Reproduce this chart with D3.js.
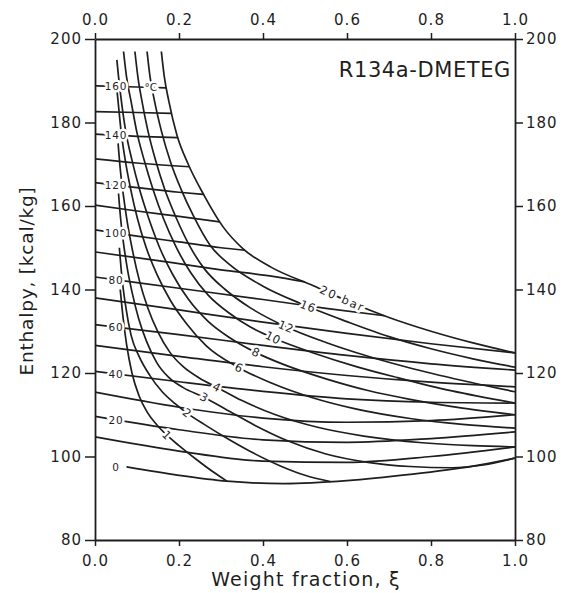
<!DOCTYPE html>
<html>
<head>
<meta charset="utf-8">
<script src="https://cdn.jsdelivr.net/npm/d3@7"></script>
<style>
  body { margin: 0; background: #fff; }
  svg text { font-family: "DejaVu Sans", sans-serif; fill: #1e1e1e; }
</style>
</head>
<body>
<script>
'use strict';

// axis ticks
let xiTicks = [0, 0.2, 0.4, 0.6, 0.8, 1.0];
let hTicks = [80, 100, 120, 140, 160, 180, 200];

// isotherms [weight fraction, enthalpy], one every 10 degC, labelled every 20
let temps = [0, 10, 20, 30, 40, 50, 60, 70, 80, 90, 100, 110, 120, 130, 140, 150, 160];
let isotherms = [
  [[0.075, 97.5], [0.2, 95.5], [0.314, 94.1], [0.45, 93.5], [0.6, 94.2], [0.75, 95.7], [0.9, 97.7], [1.0, 99.6]],
  [[0, 104.7], [0.2, 101.3], [0.4, 98.9], [0.6, 98.6], [0.8, 100], [1.0, 102.3]],
  [[0, 109.6], [0.2, 106.4], [0.4, 104], [0.6, 103.4], [0.8, 104.3], [1.0, 105.9]],
  [[0, 115.4], [0.2, 111.8], [0.4, 109.2], [0.6, 108.2], [0.8, 108.6], [1.0, 110]],
  [[0, 120.4], [0.2, 117.9], [0.4, 115.6], [0.6, 113.8], [0.8, 113], [1.0, 112.8]],
  [[0, 126.6], [0.2, 124], [0.4, 121.5], [0.6, 119.4], [0.8, 117.8], [1.0, 116.7]],
  [[0, 131.6], [0.2, 129.2], [0.4, 126.6], [0.6, 124.2], [0.8, 122.2], [1.0, 120.7]],
  [[0, 138], [0.2, 135.1], [0.4, 132.2], [0.6, 129.5], [0.8, 127], [1.0, 124.8]],
  [[0, 143], [0.2, 140.3], [0.4, 137.6], [0.55, 135.5], [0.69, 133.7]],
  [[0, 149], [0.15, 146.9], [0.3, 144.7], [0.42, 143.2], [0.5, 141.8]],
  [[0, 154.3], [0.1, 152.8], [0.2, 151.4], [0.3, 150], [0.357, 149.4]],
  [[0, 160.2], [0.1, 158.8], [0.2, 157.5], [0.297, 156.2]],
  [[0, 165.6], [0.1, 164.4], [0.2, 163.3], [0.258, 162.8]],
  [[0, 171.3], [0.1, 170.3], [0.225, 169.4]],
  [[0, 177.2], [0.1, 176.7], [0.197, 176.4]],
  [[0, 182.6], [0.1, 182.4], [0.183, 182.2]],
  [[0, 188.8], [0.1, 188.5], [0.17, 188.3]]
];
let tempLabelXi = 0.05;

// isobars (bar) of the boiling solution
let pressures = [1, 2, 3, 4, 6, 8, 10, 12, 16, 20];
let pressureText = ['1', '2', '3', '4', '6', '8', '10', '12', '16', '20 bar'];
let pressureLabelXi = [0.171, 0.219, 0.26, 0.29, 0.343, 0.383, 0.424, 0.455, 0.507, 0.589];
let isobars = [
  [[0.06, 140], [0.066, 134], [0.075, 127], [0.088, 120], [0.105, 114.5], [0.125, 110.5], [0.147, 107.6], [0.171, 105.1], [0.2, 102.6], [0.24, 99.4], [0.28, 96.4], [0.314, 94.1]],
  [[0.058, 150], [0.064, 143], [0.073, 136], [0.086, 129], [0.105, 124], [0.13, 119.5], [0.16, 115.5], [0.19, 112.7], [0.219, 110.4], [0.26, 107.7], [0.31, 104.6], [0.37, 101.2], [0.44, 97.8], [0.5, 95.5], [0.56, 94]],
  [[0.056, 163], [0.061, 157], [0.068, 151], [0.077, 145], [0.089, 139], [0.104, 133], [0.123, 127.5], [0.147, 122.5], [0.175, 119], [0.21, 116.5], [0.257, 114.3], [0.31, 111.4], [0.38, 107.5], [0.46, 103.7], [0.55, 100.6], [0.65, 98.6], [0.75, 97.6], [0.85, 97.3], [0.92, 97.9], [1.0, 99.6]],
  [[0.055, 175], [0.06, 169], [0.067, 163], [0.077, 156], [0.09, 149], [0.106, 142], [0.126, 135.5], [0.15, 129.8], [0.178, 125], [0.21, 121.5], [0.25, 118.7], [0.29, 116.6], [0.35, 113.4], [0.43, 110], [0.53, 107], [0.64, 104.9], [0.78, 103.3], [0.9, 102.6], [1.0, 102.3]],
  [[0.05, 190], [0.055, 185], [0.062, 178], [0.072, 171], [0.085, 164], [0.101, 157], [0.122, 150], [0.148, 143.5], [0.18, 137.3], [0.218, 131.8], [0.265, 126.5], [0.34, 121.4], [0.42, 117.6], [0.52, 114], [0.62, 111.4], [0.75, 109.1], [0.875, 107.7], [1.0, 106.8]],
  [[0.052, 195], [0.056, 191], [0.063, 185], [0.073, 178], [0.088, 171], [0.106, 164], [0.128, 157], [0.154, 150], [0.185, 143.6], [0.222, 137.7], [0.268, 132.5], [0.32, 128.5], [0.381, 125], [0.45, 122], [0.55, 118.6], [0.65, 115.8], [0.75, 113.7], [0.875, 111.6], [1.0, 110]],
  [[0.068, 197], [0.075, 191], [0.086, 185], [0.099, 178], [0.117, 171], [0.138, 164], [0.163, 157], [0.193, 150.2], [0.228, 144], [0.27, 138.6], [0.32, 134.3], [0.37, 131], [0.429, 128.2], [0.52, 124.8], [0.62, 121.6], [0.72, 118.9], [0.85, 115.7], [1.0, 112.8]],
  [[0.095, 197], [0.102, 191], [0.112, 185], [0.126, 178], [0.144, 171], [0.166, 164], [0.194, 157], [0.225, 150.5], [0.26, 145], [0.31, 140], [0.37, 135.6], [0.452, 131.2], [0.55, 127.3], [0.65, 124], [0.75, 121.2], [0.875, 118.2], [1.0, 115.5]],
  [[0.124, 197], [0.131, 191], [0.142, 185], [0.158, 178], [0.18, 170.5], [0.205, 164], [0.235, 157.5], [0.274, 150.6], [0.32, 146], [0.4, 140.8], [0.488, 136.7], [0.6, 132.3], [0.7, 128.7], [0.8, 125.8], [0.9, 123.4], [1.0, 121.4]],
  [[0.158, 197], [0.165, 191], [0.176, 185], [0.195, 177], [0.222, 170], [0.26, 162.5], [0.305, 155], [0.352, 149.8], [0.42, 145.3], [0.52, 140.9], [0.6, 137.3], [0.7, 133.3], [0.8, 130], [0.9, 127.2], [1.0, 124.8]]
];

let svgWidth = 562, svgHeight = 593;
let ink = '#1e1e1e';

let x = d3.scaleLinear().domain([0, 1]).range([95, 515]);
let y = d3.scaleLinear().domain([80, 200]).range([540, 39]);

let svg = d3.select('body').append('svg')
  .attr('width', svgWidth)
  .attr('height', svgHeight);

svg.append('rect').attr('width', svgWidth).attr('height', svgHeight).attr('fill', '#fff');

svg.append('clipPath').attr('id', 'plot')
  .append('rect')
  .attr('x', x(0)).attr('y', y(200))
  .attr('width', x(1) - x(0)).attr('height', y(80) - y(200));

// axes on all four sides
function styleAxis(g) {
  g.attr('font-family', '"DejaVu Sans", sans-serif').attr('font-size', 15);
  g.select('.domain').attr('stroke', ink).attr('stroke-width', 1.8);
  g.selectAll('.tick line').attr('stroke', ink).attr('stroke-width', 1.5);
  g.selectAll('.tick text').attr('fill', ink).attr('letter-spacing', 1);
}
let fx = d3.format('.1f');

svg.append('g').attr('transform', `translate(0,${y(80)})`)
  .call(d3.axisBottom(x).tickValues(xiTicks).tickFormat(fx).tickSize(6).tickSizeOuter(0).tickPadding(9))
  .call(styleAxis);
svg.append('g').attr('transform', `translate(0,${y(200)})`)
  .call(d3.axisTop(x).tickValues(xiTicks).tickFormat(fx).tickSize(6).tickSizeOuter(0).tickPadding(8))
  .call(styleAxis);
svg.append('g').attr('transform', `translate(${x(0)},0)`)
  .call(d3.axisLeft(y).tickValues(hTicks).tickSize(10).tickSizeOuter(0).tickPadding(3))
  .call(styleAxis);
svg.append('g').attr('transform', `translate(${x(1)},0)`)
  .call(d3.axisRight(y).tickValues(hTicks).tickSize(8).tickSizeOuter(0).tickPadding(3))
  .call(styleAxis);

// curves
let lineGen = d3.line().curve(d3.curveMonotoneX).x(d => x(d[0])).y(d => y(d[1]));
let plot = svg.append('g').attr('clip-path', 'url(#plot)');

plot.selectAll('path.isotherm').data(isotherms).enter().append('path')
  .attr('class', 'isotherm')
  .attr('fill', 'none').attr('stroke', ink).attr('stroke-width', 1.7)
  .attr('d', lineGen);

plot.selectAll('path.isobar').data(isobars).enter().append('path')
  .attr('class', 'isobar')
  .attr('fill', 'none').attr('stroke', ink).attr('stroke-width', 1.7)
  .attr('d', lineGen);

// helpers to place labels on a curve
function segAt(pts, xi) {
  let i = 0;
  while (i < pts.length - 2 && pts[i + 1][0] < xi) i++;
  return i;
}
function hAt(pts, xi) {
  if (xi <= pts[0][0]) return pts[0][1];
  let i = segAt(pts, xi), a = pts[i], b = pts[i + 1];
  return a[1] + (b[1] - a[1]) * (xi - a[0]) / (b[0] - a[0]);
}
function angleAt(pts, xi) {
  let i = segAt(pts, xi), a = pts[i], b = pts[i + 1];
  return Math.atan2(y(b[1]) - y(a[1]), x(b[0]) - x(a[0])) * 180 / Math.PI;
}

function halo(sel) {
  sel.attr('stroke', '#fff').attr('stroke-width', 5).attr('stroke-linejoin', 'round')
    .attr('paint-order', 'stroke');
}

// isotherm labels
let labelled = temps.map((t, i) => ({ t: t, pts: isotherms[i] })).filter(d => d.t % 20 === 0);
svg.selectAll('text.tlab').data(labelled).enter().append('text')
  .attr('class', 'tlab')
  .attr('x', x(tempLabelXi))
  .attr('y', d => y(hAt(d.pts, tempLabelXi)))
  .attr('text-anchor', 'middle').attr('dominant-baseline', 'central')
  .attr('font-size', 10.5).attr('letter-spacing', 0.8)
  .text(d => d.t)
  .call(halo);

let topIso = isotherms[temps.length - 1];
svg.append('text')
  .attr('x', x(0.133)).attr('y', y(hAt(topIso, 0.133)))
  .attr('text-anchor', 'middle').attr('dominant-baseline', 'central')
  .attr('font-size', 10.5)
  .text('\u00b0C')
  .call(halo);

// isobar labels
svg.selectAll('text.plab').data(pressures).enter().append('text')
  .attr('class', 'plab')
  .attr('transform', (p, i) => {
    let xi = pressureLabelXi[i], pts = isobars[i];
    return `translate(${x(xi)},${y(hAt(pts, xi))}) rotate(${angleAt(pts, xi)})`;
  })
  .attr('text-anchor', 'middle').attr('dominant-baseline', 'central')
  .attr('font-size', 11.5).attr('letter-spacing', (p, i) => pressureText[i].length > 2 ? 1.8 : 0.6)
  .text((p, i) => pressureText[i])
  .call(halo);

// titles
svg.append('text')
  .attr('x', 511).attr('y', 77)
  .attr('text-anchor', 'end')
  .attr('font-size', 21).attr('letter-spacing', 0.6)
  .text('R134a-DMETEG');

svg.append('text')
  .attr('transform', 'translate(26,281) rotate(-90)')
  .attr('text-anchor', 'middle').attr('dominant-baseline', 'central')
  .attr('font-size', 18.5).attr('letter-spacing', 0.8)
  .text('Enthalpy, [kcal/kg]');

svg.append('text')
  .attr('x', 306).attr('y', 586)
  .attr('text-anchor', 'middle')
  .attr('font-size', 19).attr('letter-spacing', 1.2)
  .text('Weight fraction, \u03be');
</script>
</body>
</html>
